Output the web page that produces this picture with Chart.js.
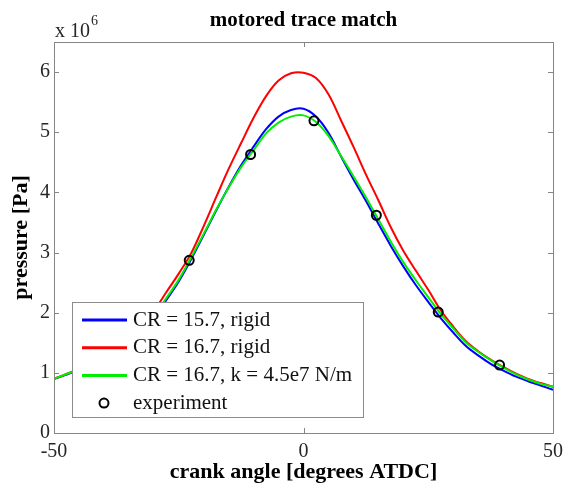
<!DOCTYPE html>
<html><head><meta charset="utf-8">
<script src="https://cdn.jsdelivr.net/npm/chart.js@4"></script>
<style>html,body{margin:0;padding:0;background:#fff;overflow:hidden;}</style>
</head><body>
<canvas id="c" width="565" height="488"></canvas>
<script>
const angles = [-50,-47.5,-45,-42.5,-40,-37.5,-35,-32.5,-30,-27.5,-25,-22.5,-20,-17.5,-15,-12.5,-10,-7.5,-5,-2.5,0,2.5,5,7.5,10,12.5,15,17.5,20,22.5,25,27.5,30,32.5,35,37.5,40,42.5,45,47.5,50];
const pressureCR157Rigid = [0.90,0.97,1.05,1.15,1.26,1.38,1.53,1.71,1.93,2.21,2.52,2.89,3.29,3.70,4.09,4.45,4.76,5.05,5.26,5.37,5.39,5.26,4.99,4.60,4.22,3.86,3.48,3.11,2.77,2.46,2.18,1.91,1.67,1.45,1.29,1.15,1.04,0.94,0.86,0.79,0.72];
const pressureCR167Rigid = [0.90,0.98,1.07,1.17,1.29,1.43,1.59,1.79,2.03,2.34,2.65,2.99,3.44,3.92,4.39,4.82,5.24,5.60,5.86,5.98,5.99,5.90,5.63,5.20,4.76,4.30,3.87,3.42,3.03,2.70,2.38,2.04,1.77,1.53,1.36,1.22,1.10,0.99,0.90,0.83,0.77];
const pressureCR167Flex = [0.90,0.98,1.06,1.16,1.27,1.40,1.55,1.73,1.95,2.24,2.55,2.92,3.31,3.71,4.08,4.42,4.70,4.98,5.16,5.26,5.28,5.17,4.94,4.61,4.27,3.92,3.55,3.18,2.84,2.54,2.26,1.98,1.74,1.51,1.35,1.21,1.09,0.98,0.89,0.82,0.77];
const expAngles = [-22.9,-10.6,2.1,14.6,27.0,39.3];
const expPressure = [2.87,4.63,5.19,3.62,2.01,1.13];
const xTickValues = [-50,0,50];
const yTickValues = [0,1,2,3,4,5,6];
const seriesLabels = ['CR = 15.7, rigid','CR = 16.7, rigid','CR = 16.7, k = 4.5e7 N/m','experiment'];
const seriesColors = ['#0000ff','#ff0000','#00ee00','#000000'];

const toPts = (xs, ys) => xs.map((x, i) => ({x: x, y: ys[i]}));
const SERIF = '"Liberation Serif", "Times New Roman", serif';

const overlay = {
  id: 'overlay',
  afterDraw(chart) {
    const {ctx, chartArea: a} = chart;
    const xs = chart.scales.x, ys = chart.scales.y;
    ctx.save();
    // legend box
    const L = {x: a.left + 18, y: a.top + 260, w: 291, h: 115};
    ctx.fillStyle = '#ffffff';
    ctx.fillRect(L.x, L.y, L.w, L.h);
    ctx.strokeStyle = '#8c8c8c';
    ctx.lineWidth = 1;
    ctx.strokeRect(L.x + 0.5, L.y + 0.5, L.w, L.h);
    chart.data.datasets.forEach((ds, i) => {
      const cy = L.y + 18 + i * 27.7;
      if (ds.showLine !== false) {
        ctx.strokeStyle = ds.borderColor;
        ctx.lineWidth = 3;
        ctx.beginPath();
        ctx.moveTo(L.x + 10, cy);
        ctx.lineTo(L.x + 55, cy);
        ctx.stroke();
      } else {
        ctx.strokeStyle = '#000';
        ctx.lineWidth = 2;
        ctx.beginPath();
        ctx.arc(L.x + 32, cy, 4.5, 0, Math.PI * 2);
        ctx.stroke();
      }
      ctx.fillStyle = '#111';
      ctx.font = '21px ' + SERIF;
      ctx.textBaseline = 'middle';
      ctx.textAlign = 'left';
      ctx.fillText(ds.label, L.x + 61, cy);
    });
    // frame
    ctx.strokeStyle = '#858585';
    ctx.lineWidth = 1;
    ctx.strokeRect(Math.round(a.left) + 0.5, Math.round(a.top) + 0.5, Math.round(a.right - a.left), Math.round(a.bottom - a.top));
    ctx.beginPath();
    yTickValues.forEach(v => {
      const py = Math.round(ys.getPixelForValue(v)) + 0.5;
      ctx.moveTo(a.left, py); ctx.lineTo(a.left + 5, py);
      ctx.moveTo(a.right - 5, py); ctx.lineTo(a.right, py);
    });
    xTickValues.forEach(v => {
      const px = Math.round(xs.getPixelForValue(v)) + 0.5;
      ctx.moveTo(px, a.bottom); ctx.lineTo(px, a.bottom - 5);
      ctx.moveTo(px, a.top); ctx.lineTo(px, a.top + 5);
    });
    ctx.stroke();
    // exponent
    ctx.fillStyle = '#262626';
    ctx.textAlign = 'left';
    ctx.textBaseline = 'alphabetic';
    ctx.font = '20px ' + SERIF;
    ctx.fillText('x 10', a.left + 1, 36.5);
    const w = ctx.measureText('x 10').width;
    ctx.font = '14px ' + SERIF;
    ctx.fillText('6', a.left + 1 + w + 1, 25);
    ctx.restore();
  }
};

new Chart(document.getElementById('c'), {
  type: 'line',
  data: {
    datasets: [
      {label: seriesLabels[0], data: toPts(angles, pressureCR157Rigid), borderColor: seriesColors[0], borderWidth: 2, pointRadius: 0, tension: 0.35, order: 3},
      {label: seriesLabels[1], data: toPts(angles, pressureCR167Rigid), borderColor: seriesColors[1], borderWidth: 2, pointRadius: 0, tension: 0.35, order: 2},
      {label: seriesLabels[2], data: toPts(angles, pressureCR167Flex), borderColor: seriesColors[2], borderWidth: 2, pointRadius: 0, tension: 0.35, order: 1},
      {label: seriesLabels[3], data: toPts(expAngles, expPressure), showLine: false, borderColor: seriesColors[3], backgroundColor: 'rgba(0,0,0,0)', pointBackgroundColor: 'rgba(0,0,0,0)', pointBorderColor: '#000', pointBorderWidth: 2, pointRadius: 4.5, order: 0}
    ]
  },
  options: {
    responsive: false,
    devicePixelRatio: 1,
    animation: false,
    layout: {padding: {left: 0, right: 12, top: 0, bottom: 0}},
    plugins: {
      legend: {display: false},
      tooltip: {enabled: false},
      title: {display: true, text: 'motored trace match', fullSize: false, color: '#000', font: {family: SERIF, size: 21, weight: 'bold'}, padding: {top: 8, bottom: 8.8}}
    },
    scales: {
      x: {
        type: 'linear', min: -50, max: 50,
        afterBuildTicks: s => { s.ticks = xTickValues.map(v => ({value: v})); },
        afterFit: s => { s.height = 55; s.paddingLeft = 0; s.paddingRight = 0; },
        grid: {display: false, drawTicks: false},
        border: {display: false},
        ticks: {padding: 7, color: '#262626', font: {family: SERIF, size: 20}, maxRotation: 0},
        title: {display: true, text: 'crank angle [degrees ATDC]', color: '#000', font: {family: SERIF, size: 22, weight: 'bold'}, padding: {top: 0, bottom: 2}}
      },
      y: {
        type: 'linear', min: 0, max: 6.5,
        afterBuildTicks: s => { s.ticks = yTickValues.map(v => ({value: v})); },
        afterFit: s => { s.width = 54; s.paddingTop = 0; s.paddingBottom = 0; },
        grid: {display: false, drawTicks: false},
        border: {display: false},
        ticks: {padding: 4, color: '#262626', font: {family: SERIF, size: 20}},
        title: {display: true, text: 'pressure [Pa]', color: '#000', font: {family: SERIF, size: 22, weight: 'bold'}, padding: {top: 8, bottom: 0}}
      }
    }
  },
  plugins: [overlay]
});
</script>
</body></html>
